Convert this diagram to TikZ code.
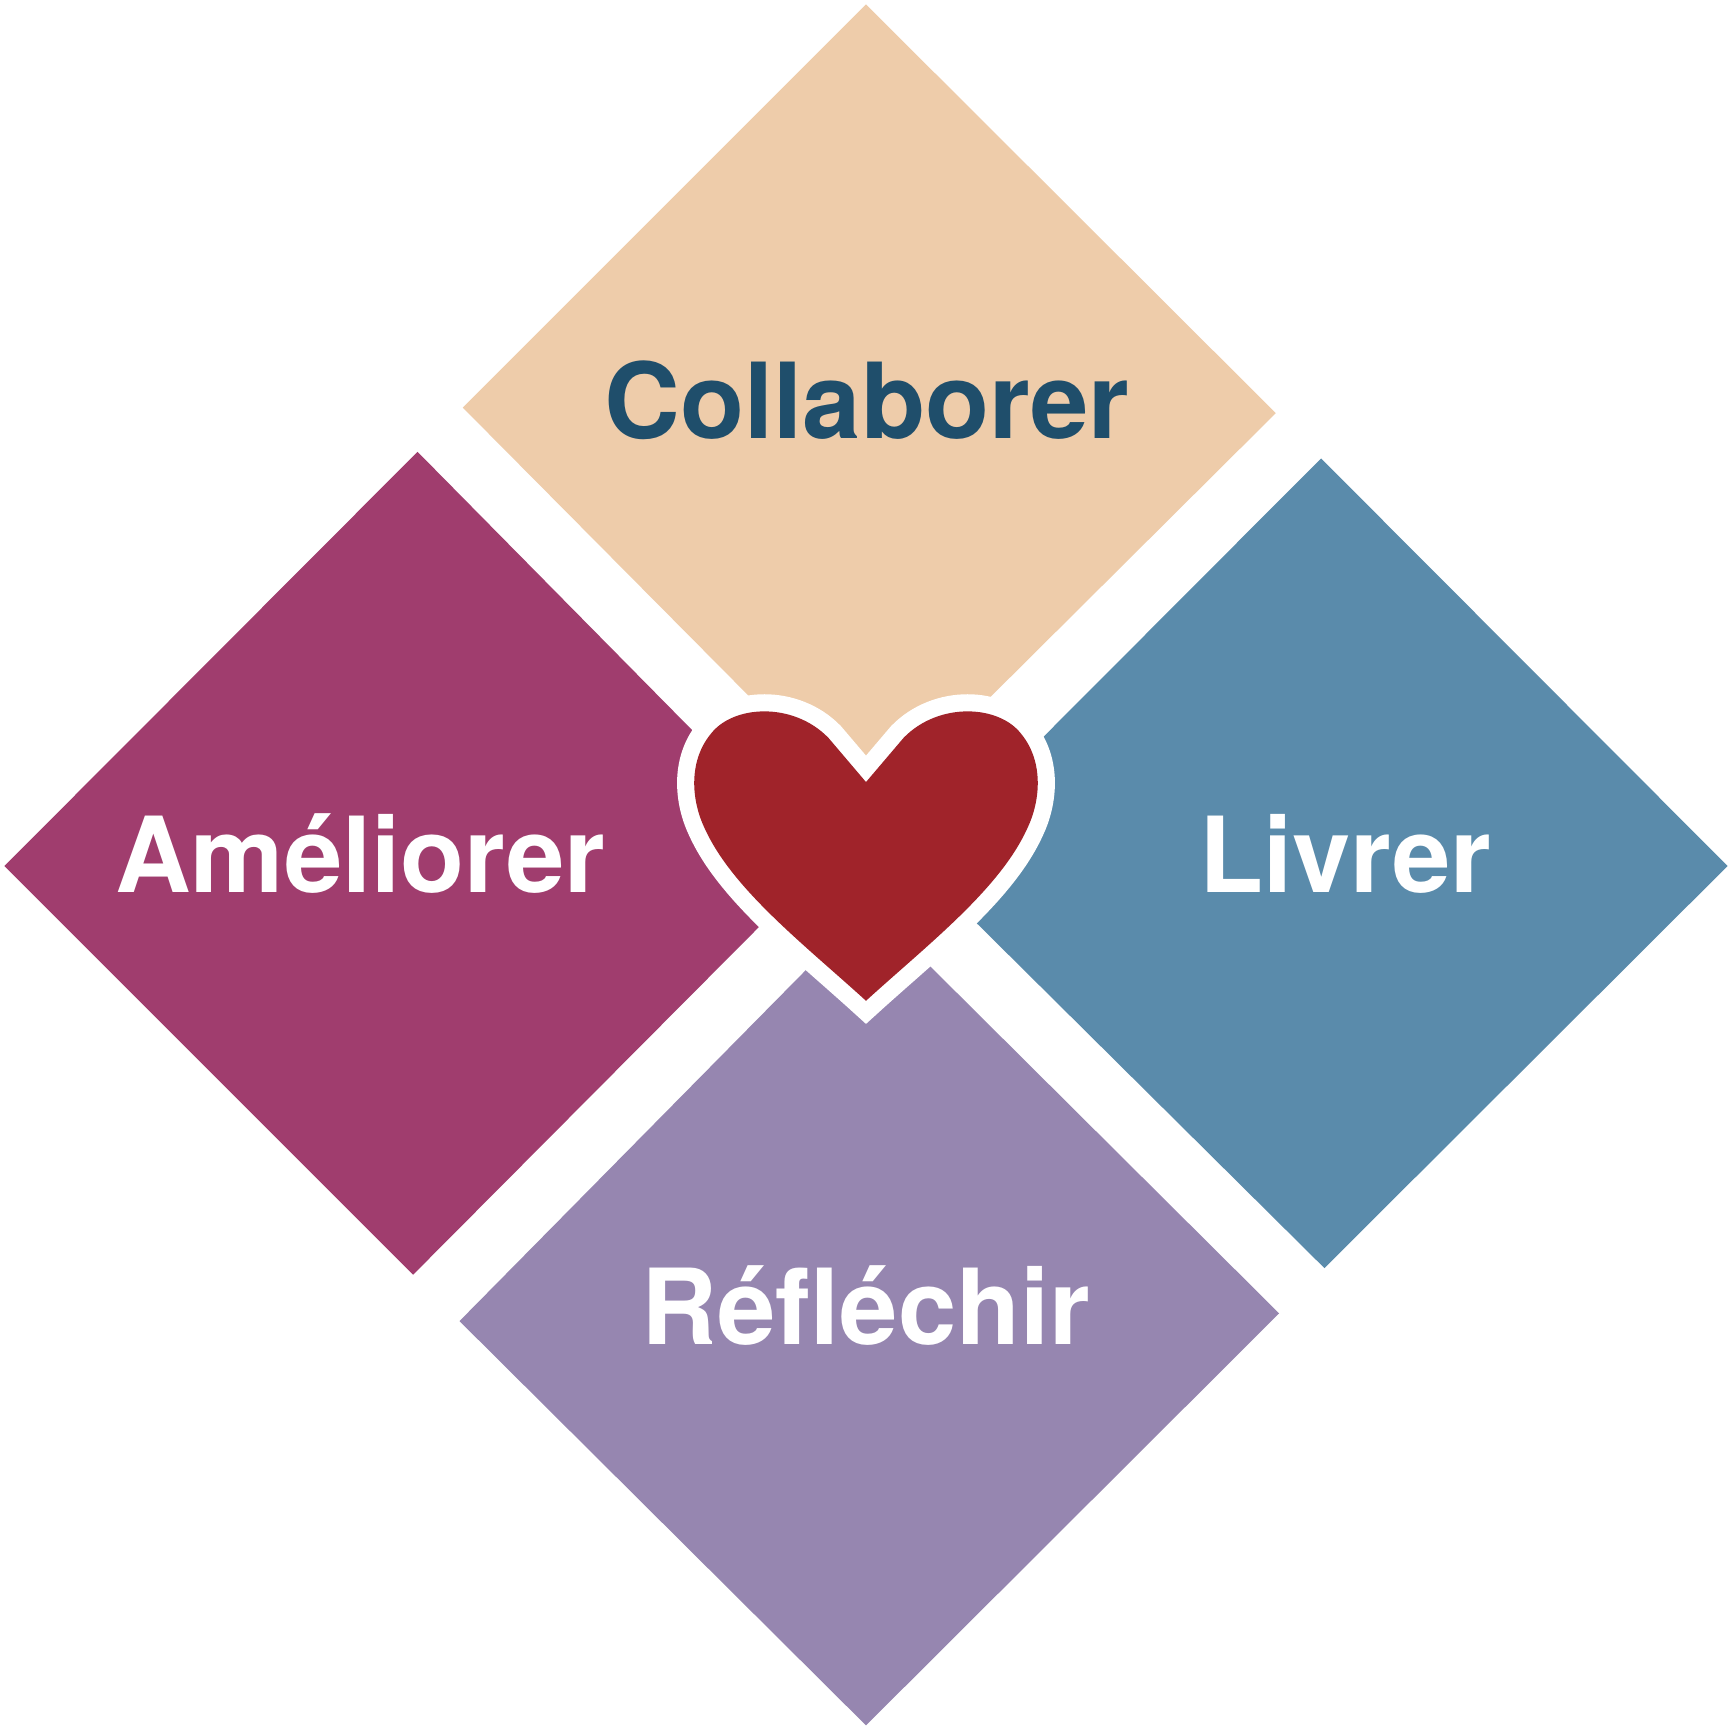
\documentclass[tikz,border=0pt]{standalone}
\usepackage{fontspec}
\setmainfont{TeX Gyre Heros}
\definecolor{corange}{HTML}{EECCAA}
\definecolor{cplum}{HTML}{A03D6E}
\definecolor{cblue}{HTML}{5A8BAB}
\definecolor{clav}{HTML}{9686B0}
\definecolor{cheart}{HTML}{A0232A}
\definecolor{cnavy}{HTML}{1F4E6B}
\begin{document}
\begin{tikzpicture}[x=0.01cm,y=-0.01cm,
  lbl/.style={font=\fontsize{27}{30}\selectfont\bfseries}]
\fill[white] (0,0) rectangle (1568,1568);
\useasboundingbox (0,0) rectangle (1568,1568);
\fill[corange] (784,4) -- (1155,374) -- (787,740) -- (419,369) -- cycle;
\fill[cplum] (378,409) -- (745,781) -- (374,1154) -- (4,784) -- cycle;
\fill[cblue] (1196,415) -- (1564,784) -- (1199,1148) -- (830,782) -- cycle;
\fill[clav] (787,820) -- (1158,1189) -- (784,1562) -- (416,1196) -- cycle;
\def\heart{(784,708) -- (818,668) .. controls (850,635) and (905,638) .. (925,665) .. controls (945,690) and (942,725) .. (930,750) .. controls (905,805) and (840,855) .. (784,906) .. controls (728,855) and (663,805) .. (638,750) .. controls (626,725) and (623,690) .. (643,665) .. controls (663,638) and (718,635) .. (750,668) -- cycle}
\filldraw[white,line width=3.1mm,line join=miter,miter limit=10] \heart;
\fill[cheart] \heart;
\node[lbl,text=cnavy] (c) at (785,362) {Collaborer};
\node[lbl,text=white] (a) at (326,773) {Améliorer};
\node[lbl,text=white] (l) at (1218,773) {Livrer};
\node[lbl,text=white] (r) at (784,1182) {Réfléchir};
\end{tikzpicture}
\end{document}
